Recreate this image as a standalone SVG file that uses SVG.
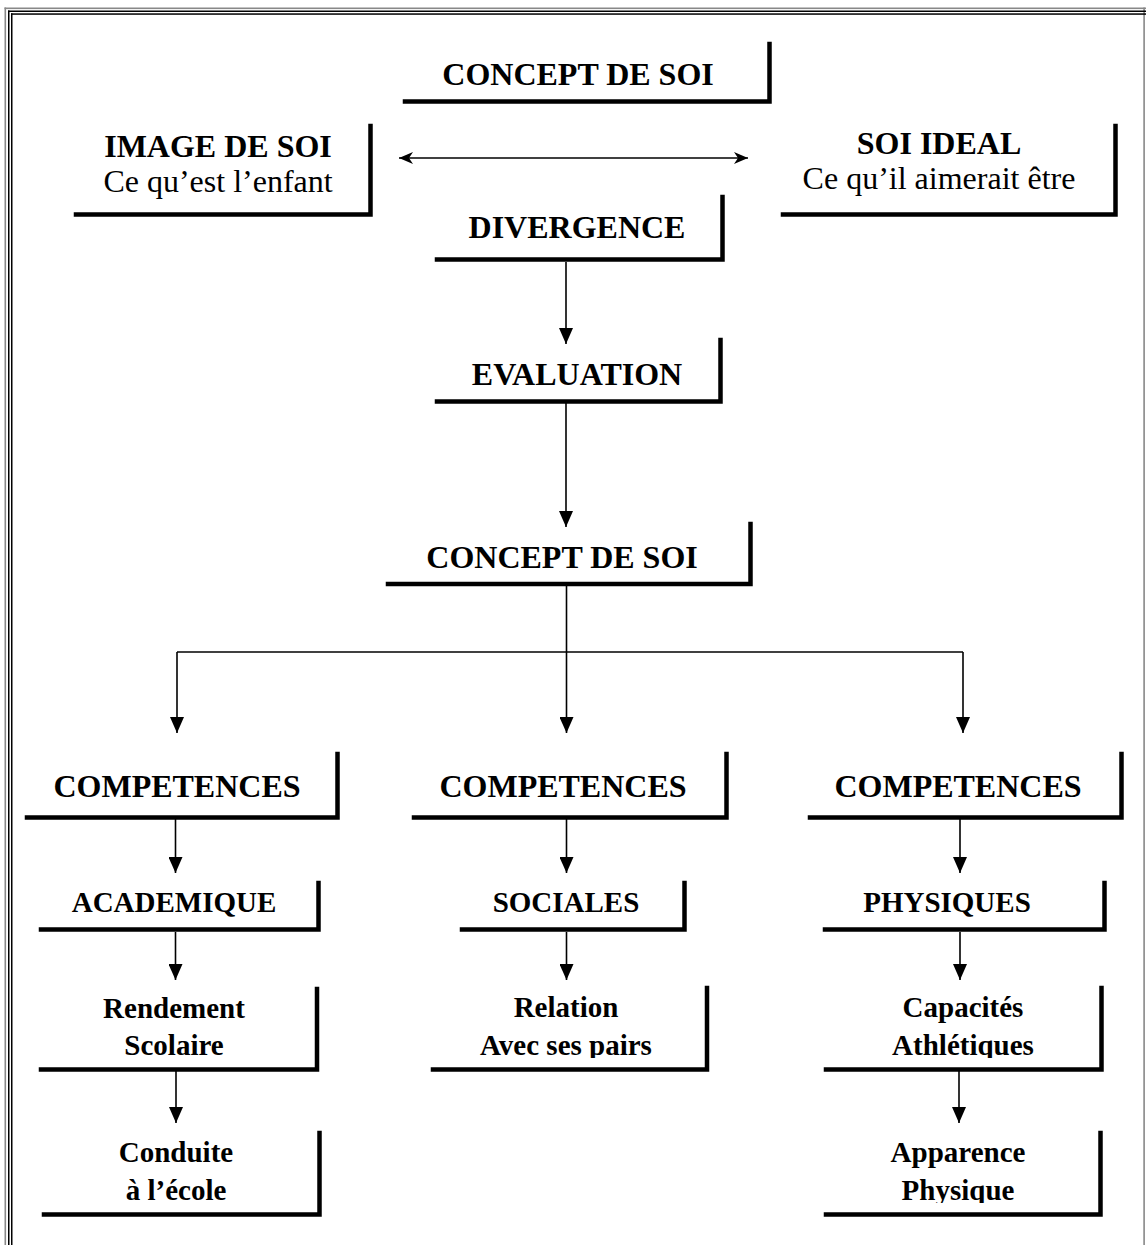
<svg xmlns="http://www.w3.org/2000/svg" width="1146" height="1245" viewBox="0 0 1146 1245">
<style>
.box{fill:none;stroke:#000;stroke-width:4.5;stroke-linejoin:miter;stroke-linecap:square}
.b32{font-family:"Liberation Serif","Times New Roman",serif;font-weight:bold;font-size:32px;text-anchor:middle;fill:#000}
.b29{font-family:"Liberation Serif","Times New Roman",serif;font-weight:bold;font-size:29px;text-anchor:middle;fill:#000}
.r32{font-family:"Liberation Serif","Times New Roman",serif;font-size:32px;text-anchor:middle;fill:#000}
.ln{fill:none;stroke:#000;stroke-width:1.6}
</style>
<defs>
<marker id="tri" viewBox="0 0 16 14" refX="16" refY="7" markerWidth="16" markerHeight="14" markerUnits="userSpaceOnUse" orient="auto-start-reverse">
<path d="M0,0 L16,7 L0,14 Z" fill="#000"/>
</marker>
<marker id="barb" viewBox="0 0 14 12" refX="14" refY="6" markerWidth="14" markerHeight="12" markerUnits="userSpaceOnUse" orient="auto-start-reverse">
<path d="M0,0 L14,6 L0,12 L4,6 Z" fill="#000"/>
</marker>
<clipPath id="c1"><rect x="0" y="980" width="1146" height="78"/></clipPath>
<clipPath id="c2"><rect x="0" y="1125" width="1146" height="78"/></clipPath>
</defs>
<rect width="1146" height="1245" fill="#fff"/>
<g id="frame">
<rect x="4.5" y="7.5" width="1.6" height="1238" fill="#888"/>
<rect x="4.5" y="7.5" width="1142" height="1.6" fill="#888"/>
<rect x="1143.3" y="7.5" width="1.6" height="1238" fill="#888"/>
<rect x="8" y="10.5" width="1.5" height="1235" fill="#000"/>
<rect x="8" y="10.5" width="1138" height="1.5" fill="#000"/>
<rect x="11" y="13.3" width="1.5" height="1232" fill="#000"/>
<rect x="11" y="13.3" width="1135" height="1.5" fill="#000"/>
</g>
<g id="connectors">
<line class="ln" x1="399" y1="158" x2="748" y2="158" marker-start="url(#barb)" marker-end="url(#barb)"/>
<line class="ln" x1="566" y1="262" x2="566" y2="344" marker-end="url(#tri)"/>
<line class="ln" x1="566" y1="403" x2="566" y2="527" marker-end="url(#tri)"/>
<line class="ln" x1="566.5" y1="586" x2="566.5" y2="652"/>
<line class="ln" x1="177" y1="652" x2="963" y2="652"/>
<line class="ln" x1="177" y1="652" x2="177" y2="733" marker-end="url(#tri)"/>
<line class="ln" x1="566.5" y1="652" x2="566.5" y2="733" marker-end="url(#tri)"/>
<line class="ln" x1="963" y1="652" x2="963" y2="733" marker-end="url(#tri)"/>
<line class="ln" x1="175.5" y1="819" x2="175.5" y2="873" marker-end="url(#tri)"/>
<line class="ln" x1="566.5" y1="819" x2="566.5" y2="873" marker-end="url(#tri)"/>
<line class="ln" x1="960" y1="819" x2="960" y2="873" marker-end="url(#tri)"/>
<line class="ln" x1="175.5" y1="932" x2="175.5" y2="980" marker-end="url(#tri)"/>
<line class="ln" x1="566.5" y1="932" x2="566.5" y2="980" marker-end="url(#tri)"/>
<line class="ln" x1="960" y1="932" x2="960" y2="980" marker-end="url(#tri)"/>
<line class="ln" x1="176" y1="1071" x2="176" y2="1123" marker-end="url(#tri)"/>
<line class="ln" x1="959" y1="1071" x2="959" y2="1123" marker-end="url(#tri)"/>
</g>
<g id="concept-top">
<path class="box" d="M405,101.5 H769.5 V44"/>
<text class="b32" x="578" y="85">CONCEPT DE SOI</text>
</g>
<g id="image-de-soi">
<path class="box" d="M76,214.5 H370.5 V126"/>
<text class="b32" x="218" y="157">IMAGE DE SOI</text>
<text class="r32" x="218" y="192">Ce qu’est l’enfant</text>
</g>
<g id="soi-ideal">
<path class="box" d="M783,214.5 H1115.5 V126"/>
<text class="b32" x="939" y="154">SOI IDEAL</text>
<text class="r32" x="939" y="189">Ce qu’il aimerait être</text>
</g>
<g id="divergence">
<path class="box" d="M437,259.5 H722.5 V197"/>
<text class="b32" x="577" y="238">DIVERGENCE</text>
</g>
<g id="evaluation">
<path class="box" d="M437,401.5 H720.5 V340"/>
<text class="b32" x="577" y="385">EVALUATION</text>
</g>
<g id="concept-main">
<path class="box" d="M388,584 H750.5 V524"/>
<text class="b32" x="562" y="568">CONCEPT DE SOI</text>
</g>
<g id="competences-academique">
<path class="box" d="M27,817.5 H337.5 V754"/>
<text class="b32" x="177" y="797">COMPETENCES</text>
</g>
<g id="competences-sociales">
<path class="box" d="M414,817.5 H726.5 V754"/>
<text class="b32" x="563" y="797">COMPETENCES</text>
</g>
<g id="competences-physiques">
<path class="box" d="M810,817.5 H1121.5 V754"/>
<text class="b32" x="958" y="797">COMPETENCES</text>
</g>
<g id="academique">
<path class="box" d="M41,929.5 H318.5 V883"/>
<text class="b29" x="174" y="912">ACADEMIQUE</text>
</g>
<g id="sociales">
<path class="box" d="M462,929.5 H684.5 V883"/>
<text class="b29" x="566" y="912">SOCIALES</text>
</g>
<g id="physiques">
<path class="box" d="M825,929.5 H1104.5 V883"/>
<text class="b29" x="947" y="912">PHYSIQUES</text>
</g>
<g id="rendement">
<path class="box" d="M41,1069.5 H317 V989"/>
<g clip-path="url(#c1)">
<text class="b29" x="174" y="1018">Rendement</text>
<text class="b29" x="174" y="1055">Scolaire</text>
</g>
</g>
<g id="relation">
<path class="box" d="M433,1069.5 H707 V988"/>
<g clip-path="url(#c1)">
<text class="b29" x="566" y="1017">Relation</text>
<text class="b29" x="566" y="1055">Avec ses pairs</text>
</g>
</g>
<g id="capacites">
<path class="box" d="M826,1069.5 H1101.5 V988"/>
<g clip-path="url(#c1)">
<text class="b29" x="963" y="1017">Capacités</text>
<text class="b29" x="963" y="1055">Athlétiques</text>
</g>
</g>
<g id="conduite">
<path class="box" d="M44,1214.5 H319.5 V1133"/>
<g clip-path="url(#c2)">
<text class="b29" x="176" y="1162">Conduite</text>
<text class="b29" x="176" y="1200">à l’école</text>
</g>
</g>
<g id="apparence">
<path class="box" d="M826,1214.5 H1100.5 V1133"/>
<g clip-path="url(#c2)">
<text class="b29" x="958" y="1162">Apparence</text>
<text class="b29" x="958" y="1200">Physique</text>
</g>
</g>
</svg>
